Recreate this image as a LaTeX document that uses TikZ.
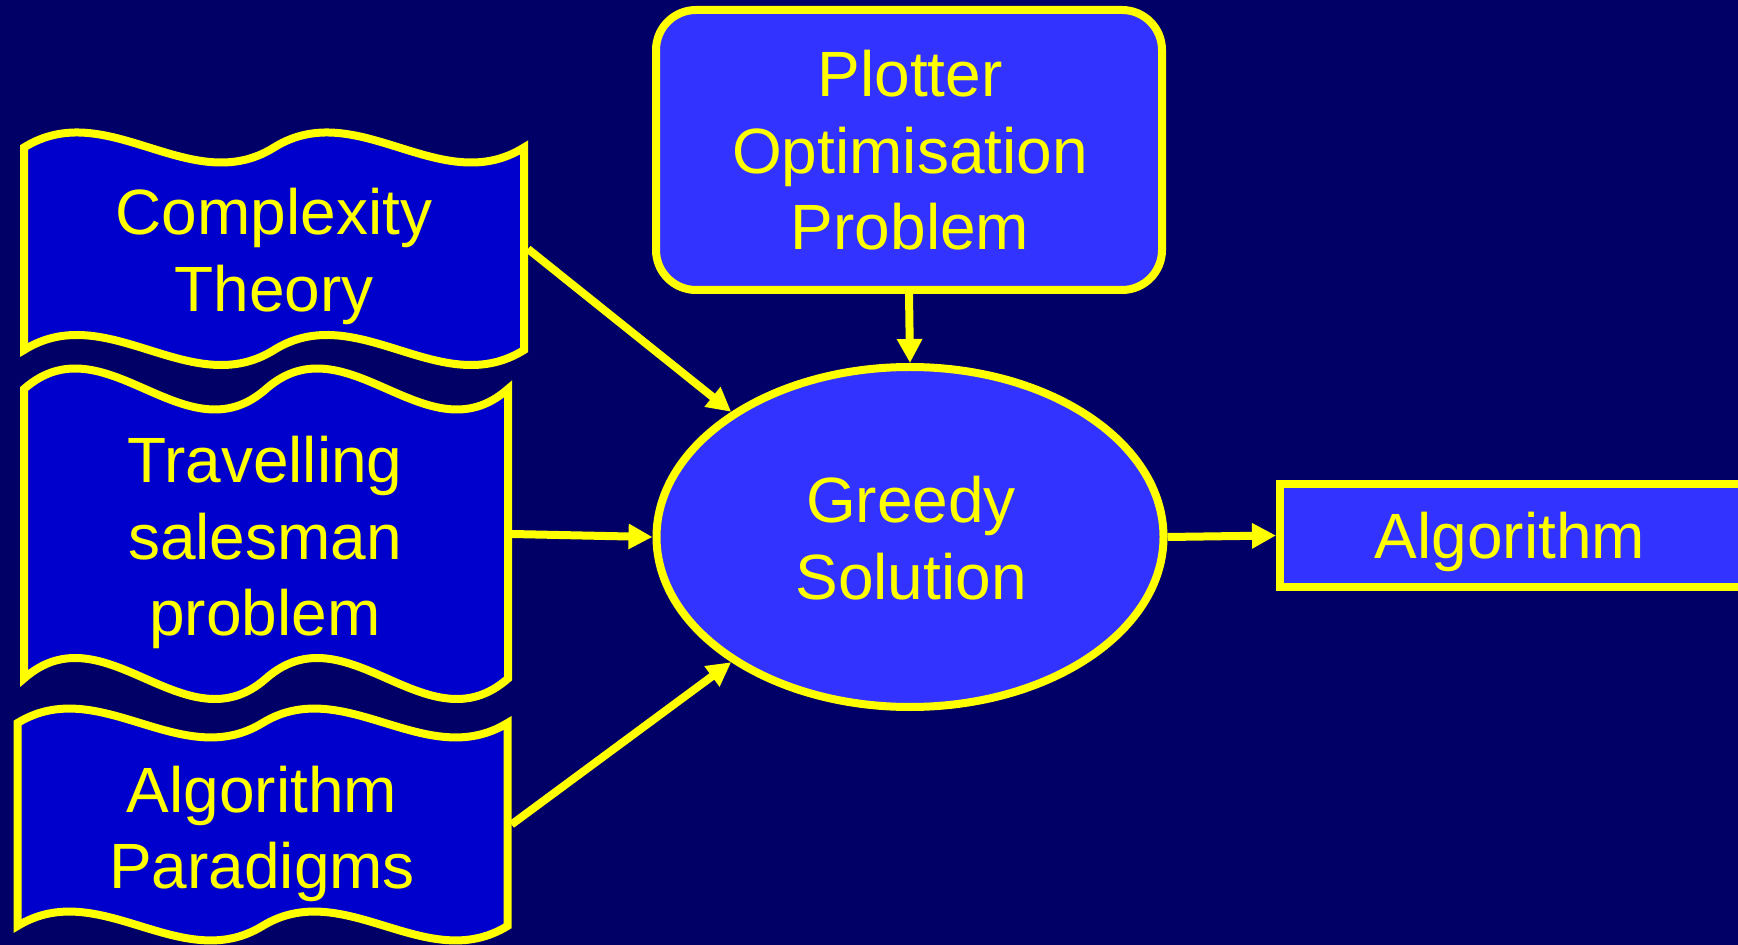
\documentclass[tikz,border=0pt]{standalone}
\usepackage{fontspec}
\setmainfont{Liberation Sans}
\usetikzlibrary{arrows.meta,shapes.geometric}
\definecolor{bgnavy}{HTML}{000066}
\definecolor{wavefill}{HTML}{0000CC}
\definecolor{boxfill}{HTML}{3333FF}
\definecolor{yel}{HTML}{FFFF00}

\begin{document}
\begin{tikzpicture}[x=0.5pt, y=-0.5pt,
  outline/.style={draw=yel, line width=4pt},
  wave/.style={outline, fill=wavefill, line join=miter},
  waveframe/.style={rectangle, draw=none, inner sep=0pt, outer sep=0pt},
  solid box/.style={outline, fill=boxfill, inner sep=0pt},
  txt/.style={text=yel, anchor=base, inner sep=0pt, font=\fontsize{32}{38.25}\selectfont},
  yarrow/.style={draw=yel, line width=4pt, -{Triangle[length=12pt,width=12pt]}},
]
\useasboundingbox (0,0) rectangle (1738,945);
\fill[bgnavy] (0,0) rectangle (1738,945);
\clip (0,0) rectangle (1738,945);

% banner shapes on the left
\draw[wave] (24,147.5) .. controls (107.3,95.5) and (190.7,199.5) .. (274,147.5)
  .. controls (357.3,95.5) and (440.7,199.5) .. (524,147.5) -- (524,350)
  .. controls (440.7,402) and (357.3,298) .. (274,350)
  .. controls (190.7,402) and (107.3,298) .. (24,350) -- cycle;
\node[waveframe, minimum width=254pt, minimum height=101pt] (ct) at (274,249) {};

\draw[wave] (24,389) .. controls (104.7,318) and (185.3,460) .. (266,389)
  .. controls (346.7,318) and (427.3,460) .. (508,389) -- (508,678.5)
  .. controls (427.3,749.5) and (346.7,607.5) .. (266,678.5)
  .. controls (185.3,749.5) and (104.7,607.5) .. (24,678.5) -- cycle;
\node[waveframe, minimum width=246pt, minimum height=145pt] (ts) at (266,534) {};

\draw[wave] (17.5,723) .. controls (99.2,673) and (180.8,773) .. (262.5,723)
  .. controls (344.2,673) and (425.8,773) .. (507.5,723) -- (507.5,926)
  .. controls (425.8,976) and (344.2,876) .. (262.5,926)
  .. controls (180.8,976) and (99.2,876) .. (17.5,926) -- cycle;
\node[waveframe, minimum width=249pt, minimum height=101pt] (ap) at (262.5,824.5) {};

% centre and right shapes
\node[solid box, rounded corners=20pt, minimum width=253pt, minimum height=140pt] (pop) at (909,150) {};
\node[solid box, ellipse, minimum width=253.5pt, minimum height=170pt] (gs) at (910,537) {};
\node[solid box, rectangle, minimum width=232.5pt, minimum height=51.5pt] (alg) at (1512.5,535.5) {};

% texts
\node[txt] (ct-text) at (274,235) {\begin{tabular}[t]{@{}c@{}}Complexity\\Theory\end{tabular}};
\node[txt] (ts-text) at (265,483) {\begin{tabular}[t]{@{}c@{}}Travelling\\salesman\\problem\end{tabular}};
\node[txt] (ap-text) at (262,812) {\begin{tabular}[t]{@{}c@{}}Algorithm\\Paradigms\end{tabular}};
\node[txt] (pop-text) at (910,97) {\begin{tabular}[t]{@{}c@{}}Plotter\\Optimisation\\Problem\end{tabular}};
\node[txt] (gs-text) at (911,523) {\begin{tabular}[t]{@{}c@{}}Greedy\\Solution\end{tabular}};
\node[txt] (alg-text) at (1510,559) {Algorithm};

% connectors
\draw[yarrow] (pop.south) -- (gs.north);
\draw[yarrow] (ct.east) -- (gs.145);
\draw[yarrow] (ts.east) -- (gs.west);
\draw[yarrow] (ap.east) -- (gs.215);
\draw[yarrow] (gs.east) -- (alg.west);
\end{tikzpicture}
\end{document}
